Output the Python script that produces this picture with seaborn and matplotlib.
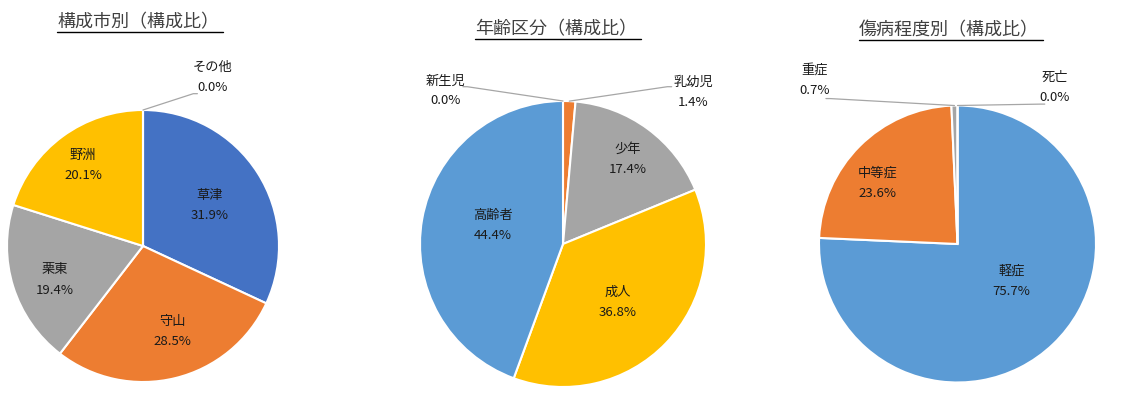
import matplotlib
matplotlib.use("Agg")
import matplotlib.pyplot as plt
import seaborn as sns
import numpy as np
from matplotlib.lines import Line2D

sns.set_theme(style="white")
plt.rcParams['font.family'] = ['Noto Sans CJK JP', 'DejaVu Sans']

# ---------------- data ----------------
city_labels = ["草津", "守山", "栗東", "野洲", "その他"]
city_values = [31.9, 28.5, 19.4, 20.1, 0.0]

age_labels = ["新生児", "乳幼児", "少年", "成人", "高齢者"]
age_values = [0.0, 1.4, 17.4, 36.8, 44.4]

sev_labels = ["軽症", "中等症", "重症", "死亡"]
sev_values = [75.7, 23.6, 0.7, 0.0]

titles = ["構成市別（構成比）", "年齢区分（構成比）", "傷病程度別（構成比）"]

# ---------------- style ----------------
BLUE = "#4472C4"; ORANGE = "#ED7D31"; GRAY = "#A5A5A5"; GOLD = "#FFC000"; LBLUE = "#5B9BD5"
city_colors = [BLUE, ORANGE, GRAY, GOLD, LBLUE]
age_colors = [BLUE, ORANGE, GRAY, GOLD, LBLUE]
sev_colors = [LBLUE, ORANGE, GRAY, "#FFC000"]

W, H = 1146, 396
fig = plt.figure(figsize=(W / 100, H / 100), dpi=100)

# pie geometry in pixels: (cx, cy from top, r)
geoms = [(143, 246, 136), (563, 244, 143), (957.5, 244, 138.5)]

# label placement (data coords relative to unit pie)
city_pos = {"草津": (0.49, 0.30), "守山": (0.22, -0.63), "栗東": (-0.65, -0.25),
            "野洲": (-0.44, 0.59), "その他": (0.51, 1.24)}
age_pos = {"新生児": (-0.82, 1.07), "乳幼児": (0.91, 1.06), "少年": (0.45, 0.59),
           "成人": (0.38, -0.41), "高齢者": (-0.49, 0.13)}
sev_pos = {"軽症": (0.39, -0.27), "中等症": (-0.58, 0.44), "重症": (-1.03, 1.18),
           "死亡": (0.70, 1.13)}
# leader line end points for outside labels
city_lead = {"その他": [(0.37, 1.12), (0.40, 1.12)]}
age_lead = {"新生児": [(-0.67, 1.10), (-0.70, 1.10)], "乳幼児": [(0.73, 1.10), (0.76, 1.10)]}
sev_lead = {"重症": [(-0.92, 1.05), (-0.95, 1.05)], "死亡": [(0.60, 1.01), (0.63, 1.01)]}

datasets = [
    (city_labels, city_values, city_colors, city_pos, city_lead),
    (age_labels, age_values, age_colors, age_pos, age_lead),
    (sev_labels, sev_values, sev_colors, sev_pos, sev_lead),
]

LEAD = "#A6A6A6"
FS = 9.5

for (labels, values, colors, pos, lead), (cx, cy, r) in zip(datasets, geoms):
    ax = fig.add_axes([(cx - r) / W, (H - cy - r) / H, 2 * r / W, 2 * r / H])
    wedges, _ = ax.pie(values, colors=colors, startangle=90, counterclock=False,
                       radius=1.0, normalize=True,
                       wedgeprops=dict(edgecolor="white", linewidth=1.5))
    ax.set_xlim(-1, 1); ax.set_ylim(-1, 1)
    ax.set_aspect("auto")
    ax.axis("off")
    for lab, val, w in zip(labels, values, wedges):
        x, y = pos[lab]
        ax.annotate(lab, xy=(x, y), xycoords="data", xytext=(0, 7.2),
                    textcoords="offset points", ha="center", va="center",
                    fontsize=FS, color="#1a1a1a", annotation_clip=False)
        ax.annotate(f"{val:.1f}%", xy=(x, y), xycoords="data", xytext=(0, -7.2),
                    textcoords="offset points", ha="center", va="center",
                    fontsize=FS, color="#1a1a1a", annotation_clip=False)
        if lab in lead:
            mid = np.deg2rad((w.theta1 + w.theta2) / 2)
            sx, sy = np.cos(mid), np.sin(mid)
            pts = [(sx, sy)] + lead[lab]
            ax.plot([p[0] for p in pts], [p[1] for p in pts], color=LEAD,
                    lw=0.9, clip_on=False)

# titles with underline
title_pos = [(138, 22), (556, 29), (949, 30)]
fig.canvas.draw()
renderer = fig.canvas.get_renderer()
for t, (tx, ty) in zip(titles, title_pos):
    txt = fig.text(tx / W, 1 - ty / H, t, ha="center", va="center",
                   fontsize=13, color="#404040")
    bb = txt.get_window_extent(renderer=renderer)
    uy = (H - ty - 10) / H
    fig.add_artist(Line2D([bb.x0 / W, (bb.x1 + 4) / W], [uy, uy],
                          color="black", lw=1.0, transform=fig.transFigure))

fig.savefig("out.png", dpi=100)
